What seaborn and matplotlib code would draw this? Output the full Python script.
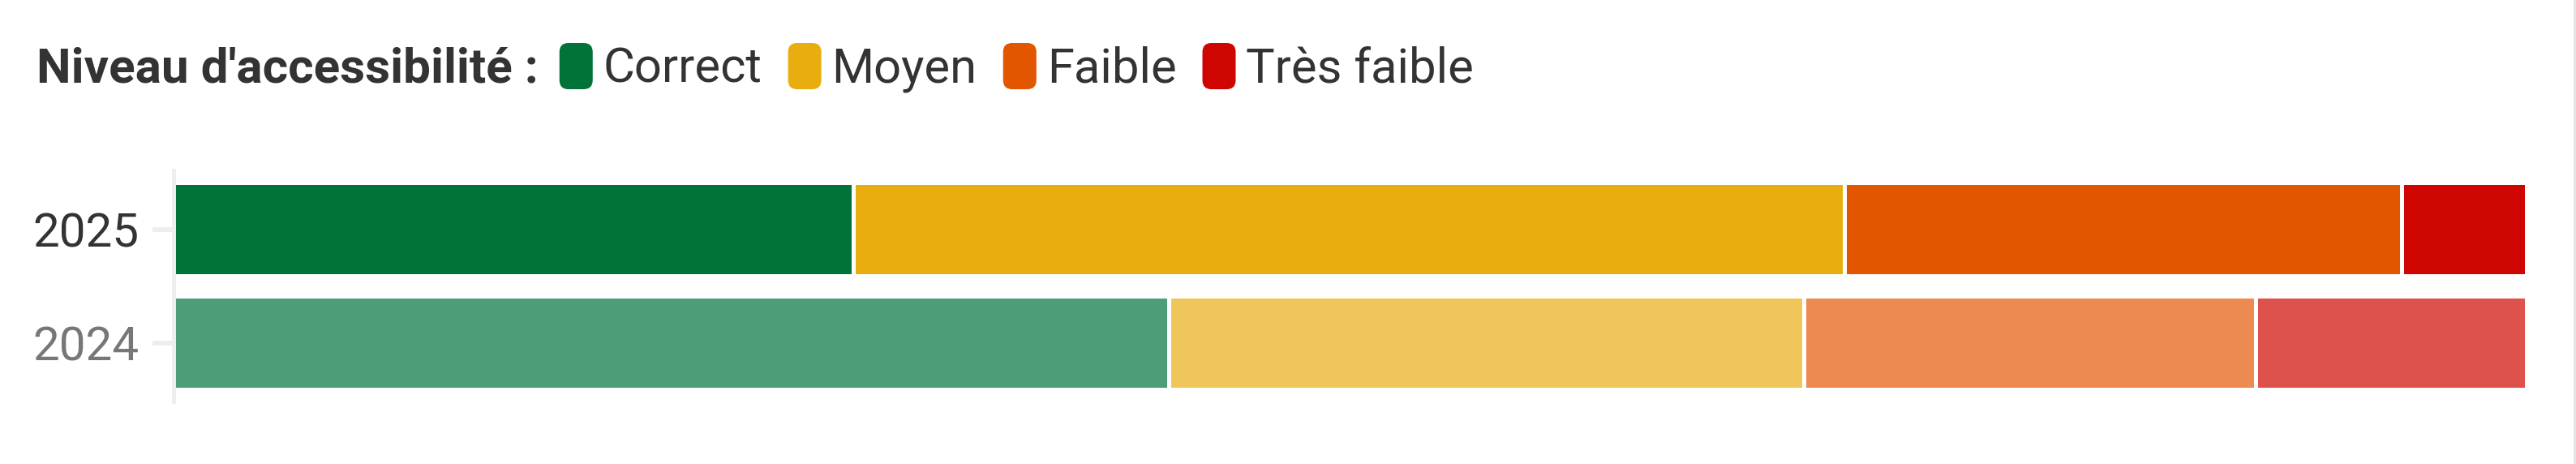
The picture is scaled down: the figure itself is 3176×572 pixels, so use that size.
import matplotlib.pyplot as plt
import numpy as np
import pandas as pd
import seaborn as sns
from matplotlib.patches import FancyBboxPatch
from matplotlib.transforms import IdentityTransform

W, H, DPI = 3176, 572, 200
TEXT_COLOR = "#333333"
GRID_COLOR = "#eeeeee"
FONT = ["Roboto", "DejaVu Sans"]

# data
years = ["2025", "2024"]
levels = ["Correct", "Moyen", "Faible", "Très faible"]
values_2025 = [28.9, 42.1, 23.7, 5.3]
values_2024 = [42.3, 27.0, 19.2, 11.5]
colors_2025 = ["#00723A", "#E8AE10", "#E25600", "#CE0500"]
colors_2024 = ["#4D9E76", "#F0C65A", "#EC8A50", "#DE524D"]
year_label_colors = ["#333333", "#777777"]


def build_frame():
    rows = []
    for year, vals in zip(years, [values_2025, values_2024]):
        cum = np.cumsum(vals)
        for level, c in zip(levels, cum):
            rows.append({"year": year, "level": level, "cum": c})
    return pd.DataFrame(rows)


def draw_legend(fig):
    renderer = fig.canvas.get_renderer()
    baseline = H - 102
    x = 45
    title = fig.text(x, baseline, "Niveau d'accessibilité :", transform=IdentityTransform(),
                     fontsize=21.7, fontweight="bold", color=TEXT_COLOR, family=FONT,
                     va="baseline", ha="left")
    x = title.get_window_extent(renderer).x1 + 26
    for level, color in zip(levels, colors_2025):
        sw = FancyBboxPatch((x, H - 110), 41, 57, boxstyle="round,pad=0,rounding_size=11",
                            facecolor=color, edgecolor="none", transform=IdentityTransform())
        fig.patches.append(sw)
        x += 41 + 13
        t = fig.text(x, baseline, level, transform=IdentityTransform(), fontsize=21.5,
                     color=TEXT_COLOR, family=FONT, va="baseline", ha="left")
        x = t.get_window_extent(renderer).x1 + 32


def main():
    sns.set_theme(style="white")
    plt.rcParams["font.family"] = FONT

    df = build_frame()

    fig = plt.figure(figsize=(W / DPI, H / DPI), dpi=DPI)
    fig.patch.set_facecolor("white")
    ax = fig.add_axes([214 / W, 77 / H, (3115 - 214) / W, 285 / H])

    # stacked bars: draw cumulative totals from the widest down
    for i in reversed(range(len(levels))):
        sub = df[df["level"] == levels[i]]
        sns.barplot(
            data=sub, x="cum", y="year", hue="year", order=years, hue_order=years,
            palette={"2025": colors_2025[i], "2024": colors_2024[i]},
            orient="h", width=0.82, edgecolor="white", linewidth=1.8,
            saturation=1, legend=False, ax=ax,
        )

    ax.set_xlim(0, 100)
    ax.set_ylim(1.515, -0.52)
    ax.set_xlabel("")
    ax.set_ylabel("")
    ax.set_xticks([])

    for side in ["top", "right", "bottom"]:
        ax.spines[side].set_visible(False)
    ax.spines["left"].set_color(GRID_COLOR)
    ax.spines["left"].set_linewidth(1.8)

    ax.set_axisbelow(True)
    ax.grid(axis="y", color=GRID_COLOR, linewidth=2.2)
    ax.grid(axis="x", visible=False)
    ax.tick_params(axis="y", length=9.4, width=2.2, color=GRID_COLOR, pad=5.8,
                   labelsize=21, left=True)
    for lab, c in zip(ax.get_yticklabels(), year_label_colors):
        lab.set_color(c)
        lab.set_family(FONT)

    draw_legend(fig)

    # thin frame line on the right edge of the screenshot
    fig.add_artist(plt.Line2D([3174 / W, 3174 / W], [0, 1], transform=fig.transFigure,
                              color="#e2e2e2", linewidth=1.0))

    fig.savefig("out.png", dpi=DPI, facecolor="white")


if __name__ == "__main__":
    main()
